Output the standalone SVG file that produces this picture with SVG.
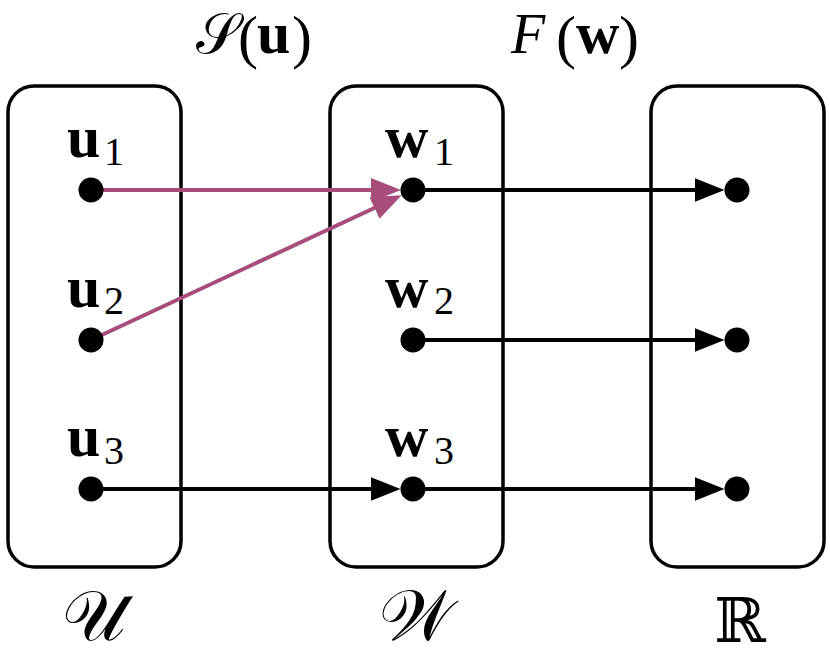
<svg xmlns="http://www.w3.org/2000/svg" width="830" height="658" viewBox="0 0 830 658">
<style>
.box{fill:none;stroke:#000;stroke-width:3.5}
.dot{fill:#000}
.blk{stroke:#000;stroke-width:4;fill:none}
.pnk{stroke:#A64D79;stroke-width:4;fill:none}
.t{font-family:"Liberation Serif","DejaVu Serif",serif;fill:#000}
.b{font-weight:bold;font-size:60px}
.s{font-size:40px}
.p{font-size:60px}
.i{font-style:italic;font-size:56px}
.cal{font-family:"DejaVu Serif","Noto Sans",serif;font-size:56px}
.calb{font-family:"DejaVu Serif","Noto Sans",serif;font-size:71px}
</style>
<defs>
<marker id="ab" markerUnits="userSpaceOnUse" markerWidth="30" markerHeight="24" refX="20" refY="12" orient="auto" viewBox="0 0 30 24">
<path d="M0,0 L30,12 L0,24 z" fill="#000"/>
</marker>
<marker id="ap" markerUnits="userSpaceOnUse" markerWidth="30" markerHeight="24" refX="20" refY="12" orient="auto" viewBox="0 0 30 24">
<path d="M0,0 L30,12 L0,24 z" fill="#A64D79"/>
</marker>
</defs>
<g id="setU"><rect class="box" x="8" y="86" width="173" height="481" rx="26"/></g>
<g id="setW"><rect class="box" x="330" y="86" width="173" height="481" rx="26"/></g>
<g id="setR"><rect class="box" x="651" y="86" width="173" height="481" rx="26"/></g>
<g id="connectors">
<line class="pnk" x1="91" y1="190" x2="391" y2="190" marker-end="url(#ap)"/>
<line class="pnk" x1="91" y1="340" x2="392.6" y2="199.5" marker-end="url(#ap)"/>
<line class="blk" x1="91" y1="489" x2="390.5" y2="489" marker-end="url(#ab)"/>
<line class="blk" x1="413" y1="190" x2="714.5" y2="190" marker-end="url(#ab)"/>
<line class="blk" x1="413" y1="340" x2="714.5" y2="340" marker-end="url(#ab)"/>
<line class="blk" x1="413" y1="489" x2="714.5" y2="489" marker-end="url(#ab)"/>
</g>
<g id="u1"><circle class="dot" cx="91" cy="190" r="12.5"/><text class="t"><tspan class="b" x="67" y="157">u</tspan><tspan class="s" x="104" y="165">1</tspan></text></g>
<g id="u2"><circle class="dot" cx="91" cy="340" r="12.5"/><text class="t"><tspan class="b" x="67" y="307">u</tspan><tspan class="s" x="104" y="314">2</tspan></text></g>
<g id="u3"><circle class="dot" cx="91" cy="489" r="12.5"/><text class="t"><tspan class="b" x="67" y="456">u</tspan><tspan class="s" x="104" y="464">3</tspan></text></g>
<g id="w1"><circle class="dot" cx="413" cy="190" r="12.5"/><text class="t"><tspan class="b" x="385" y="157">w</tspan><tspan class="s" x="434" y="165">1</tspan></text></g>
<g id="w2"><circle class="dot" cx="413" cy="340" r="12.5"/><text class="t"><tspan class="b" x="385" y="307">w</tspan><tspan class="s" x="434" y="314">2</tspan></text></g>
<g id="w3"><circle class="dot" cx="413" cy="489" r="12.5"/><text class="t"><tspan class="b" x="385" y="456">w</tspan><tspan class="s" x="434" y="464">3</tspan></text></g>
<g id="r1"><circle class="dot" cx="737" cy="190" r="12.5"/></g>
<g id="r2"><circle class="dot" cx="737" cy="340" r="12.5"/></g>
<g id="r3"><circle class="dot" cx="737" cy="489" r="12.5"/></g>
<g id="labelS"><text class="t"><tspan class="cal" x="196" y="53">𝒮</tspan><tspan class="p" x="238" y="57">(</tspan><tspan class="b" x="257" y="53">u</tspan><tspan class="p" x="292" y="57">)</tspan></text></g>
<g id="labelF"><text class="t"><tspan class="i" x="511" y="53">F</tspan><tspan class="p" x="556" y="57">(</tspan><tspan class="b" x="576" y="53">w</tspan><tspan class="p" x="619" y="57">)</tspan></text></g>
<g id="labelU"><text class="t calb" x="94" y="640" text-anchor="middle">𝒰</text></g>
<g id="labelW"><text class="t calb" x="416" y="640" text-anchor="middle">𝒲</text></g>
<g id="labelR"><text class="t" x="740" y="642" text-anchor="middle" style="font-family:'DejaVu Serif',serif;font-size:62px">ℝ</text></g>
</svg>
